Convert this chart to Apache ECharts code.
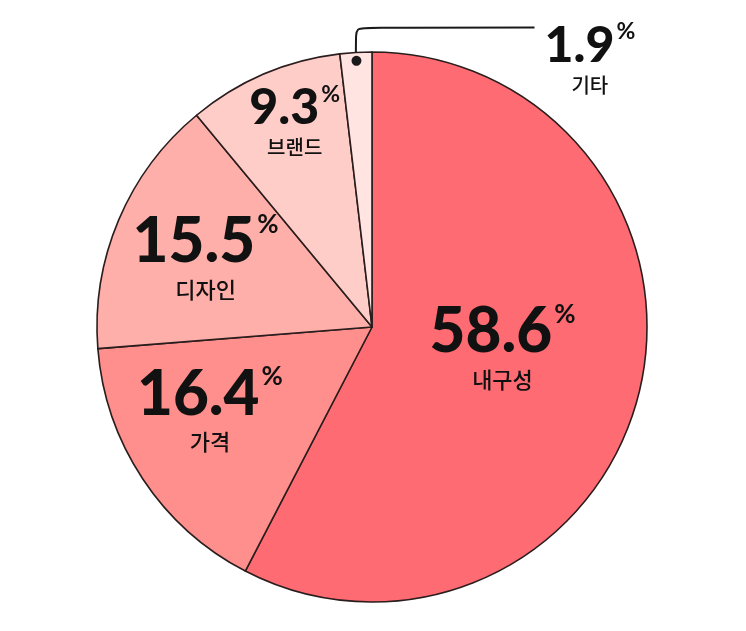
<!DOCTYPE html>
<html>
<head>
<meta charset="utf-8">
<script src="https://cdn.jsdelivr.net/npm/echarts@6/dist/echarts.min.js"></script>
<style>
html,body{margin:0;padding:0;background:#fff;}
#chart{width:746px;height:631px;}
</style>
</head>
<body>
<div id="chart"></div>
<script>
// ---- data ----
const categories = ['내구성', '가격', '디자인', '브랜드', '기타'];
const values = [58.6, 16.4, 15.5, 9.3, 1.9];

// ---- style ----
const colors = ['#ff6b72', '#ff8f8c', '#ffafa9', '#ffcdc8', '#ffe4e1'];
const labelShift = [[-6, -12], [-45, 6], [-37, -14], [-22, -75], [0, 0]];
const smallLabel = [false, false, false, true, true];
const CX = 372, CY = 327, R = 275;
const numFont = 'Lato, "Noto Sans", sans-serif';
const krFont = '"Noto Sans CJK KR", "Noto Sans", sans-serif';

const chart = echarts.init(document.getElementById('chart'), null, {renderer: 'canvas'});

const mainData = values.map((v, i) => ({
  name: categories[i],
  value: v,
  itemStyle: {color: colors[i]},
  label: i === 4 ? {position: 'outside'} : {position: 'inside'},
  labelLine: {show: i === 4}
}));

const dotData = values.map((v, i) => ({
  name: categories[i],
  value: v,
  label: {show: i === 4}
}));

chart.setOption({
  backgroundColor: '#ffffff',
  animation: false,
  series: [
    {
      type: 'pie',
      center: [CX, CY],
      radius: [0, R],
      startAngle: 90,
      clockwise: true,
      avoidLabelOverlap: false,
      silent: true,
      itemStyle: {borderColor: '#2a1d1d', borderWidth: 1.6},
      emphasis: {disabled: true},
      labelLine: {
        show: false,
        smooth: 0.12,
        lineStyle: {color: '#1a1a1a', width: 2}
      },
      label: {
        show: true,
        formatter: function (p) {
          const s = smallLabel[p.dataIndex] ? 's' : '';
          return '{v' + s + '|' + p.value + '}{p' + s + '|%}\n{n' + s + '|' + p.name + '}';
        },
        rich: {
          v: {fontFamily: numFont, fontWeight: 900, fontSize: 62, color: '#111', lineHeight: 62},
          p: {fontFamily: numFont, fontWeight: 'bold', fontSize: 26, color: '#111', verticalAlign: 'top', lineHeight: 26, padding: [0, 0, 0, 2]},
          n: {fontFamily: krFont, fontWeight: 500, fontSize: 22, color: '#111', lineHeight: 32},
          vs: {fontFamily: numFont, fontWeight: 900, fontSize: 50, color: '#111', lineHeight: 50},
          ps: {fontFamily: numFont, fontWeight: 'bold', fontSize: 23, color: '#111', verticalAlign: 'top', lineHeight: 23, padding: [0, 0, 0, 2]},
          ns: {fontFamily: krFont, fontWeight: 500, fontSize: 20, color: '#111', lineHeight: 30}
        }
      },
      labelLayout: function (p) {
        if (p.dataIndex === 4 && p.labelLinePoints) {
          const s = p.labelLinePoints[0];
          const x = s[0] + 234;
          const top = s[1] - 25;
          const w = p.labelRect.width;
          return {
            x: x,
            y: top - 7,
            align: 'center',
            verticalAlign: 'top',
            labelLinePoints: [[s[0], s[1] + 11], [s[0], top], [x - w / 2 - 10, top]]
          };
        }
        const d = labelShift[p.dataIndex];
        return {dx: d[0], dy: d[1]};
      },
      data: mainData
    },
    {
      type: 'pie',
      center: [CX, CY],
      radius: [R - 22, R],
      startAngle: 90,
      clockwise: true,
      silent: true,
      avoidLabelOverlap: false,
      emphasis: {disabled: true},
      itemStyle: {color: 'rgba(0,0,0,0)', borderWidth: 0},
      labelLine: {show: false},
      label: {
        position: 'inside',
        formatter: '●',
        fontFamily: '"DejaVu Sans", sans-serif',
        fontSize: 13,
        color: '#1a1a1a'
      },
      data: dotData
    }
  ]
});
</script>
</body>
</html>
